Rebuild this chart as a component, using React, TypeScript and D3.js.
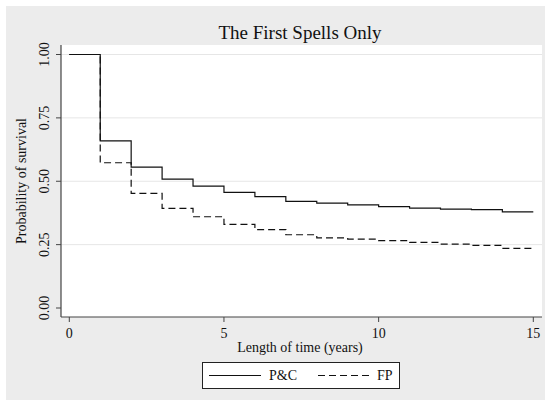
import React from "react";
import * as d3 from "d3";

const times = [0, 1, 2, 3, 4, 5, 6, 7, 8, 9, 10, 11, 12, 13, 14, 15];
const pcSurvival = [1.0, 0.659, 0.556, 0.508, 0.481, 0.456, 0.439, 0.421, 0.414, 0.407, 0.4, 0.394, 0.39, 0.388, 0.379, 0.379];
const fpSurvival = [1.0, 0.573, 0.452, 0.393, 0.36, 0.33, 0.309, 0.289, 0.277, 0.272, 0.266, 0.259, 0.252, 0.247, 0.235, 0.235];
const xTicks = [0, 5, 10, 15];
const yTicks = [0, 0.25, 0.5, 0.75, 1];
const seriesNames = ["P&C", "FP"];

const FONT = "'Liberation Serif', 'Times New Roman', serif";

export default function App() {
  const W = 550, H = 402;
  const plot = { left: 61, right: 542, top: 45, bottom: 317 };
  const x = d3.scaleLinear().domain([0, 15]).range([69.3, 533.3]);
  const y = d3.scaleLinear().domain([0, 1]).range([308, 54.5]);
  const line = d3
    .line<number>()
    .x((_, i) => x(times[i]))
    .y((d) => y(d))
    .curve(d3.curveStepAfter);

  return (
    <svg width={W} height={H} style={{ position: "absolute", left: 0, top: 0 }} fontFamily={FONT}>
      <rect x={0} y={0} width={W} height={H} fill="#ffffff" />
      <rect x={6} y={6} width={539} height={394} fill="#ececec" />
      <rect x={plot.left} y={plot.top} width={plot.right - plot.left} height={plot.bottom - plot.top} fill="#ffffff" />
      {yTicks.filter((t) => t > 0).map((t) => (
        <line key={"g" + t} x1={plot.left} x2={plot.right} y1={y(t)} y2={y(t)} stroke="#e6e6e6" strokeWidth={1} />
      ))}
      <path d={line(pcSurvival) || ""} fill="none" stroke="#111" strokeWidth={1.2} />
      <path d={line(fpSurvival) || ""} fill="none" stroke="#111" strokeWidth={1.2} strokeDasharray="7,4" />
      <line x1={plot.left} x2={plot.left} y1={plot.top} y2={plot.bottom} stroke="#444" strokeWidth={1.2} />
      <line x1={plot.left} x2={plot.right} y1={plot.bottom} y2={plot.bottom} stroke="#444" strokeWidth={1.2} />
      {yTicks.map((t) => (
        <g key={"y" + t}>
          <line x1={plot.left - 5} x2={plot.left} y1={y(t)} y2={y(t)} stroke="#444" strokeWidth={1} />
          <text
            transform={`translate(${49},${y(t)}) rotate(-90)`}
            textAnchor="middle"
            fontSize={14}
            fill="#111"
          >
            {d3.format(".2f")(t)}
          </text>
        </g>
      ))}
      {xTicks.map((t) => (
        <g key={"x" + t}>
          <line x1={x(t)} x2={x(t)} y1={plot.bottom} y2={plot.bottom + 5} stroke="#444" strokeWidth={1} />
          <text x={x(t)} y={338} textAnchor="middle" fontSize={14} fill="#111">
            {t}
          </text>
        </g>
      ))}
      <text x={300} y={39} textAnchor="middle" fontSize={19} fill="#111">
        The First Spells Only
      </text>
      <text x={300} y={352} textAnchor="middle" fontSize={14} fill="#111">
        Length of time (years)
      </text>
      <text transform={`translate(${26},${181}) rotate(-90)`} textAnchor="middle" fontSize={14} fill="#111">
        Probability of survival
      </text>
      <rect x={202.5} y={362.5} width={197} height={26} fill="#ffffff" stroke="#222" strokeWidth={1} />
      <line x1={209} x2={261} y1={375.5} y2={375.5} stroke="#111" strokeWidth={1.2} />
      <text x={269} y={380} fontSize={14} fill="#111">
        {seriesNames[0]}
      </text>
      <line x1={318} x2={372} y1={375.5} y2={375.5} stroke="#111" strokeWidth={1.2} strokeDasharray="7,4" />
      <text x={377} y={380} fontSize={14} fill="#111">
        {seriesNames[1]}
      </text>
    </svg>
  );
}
